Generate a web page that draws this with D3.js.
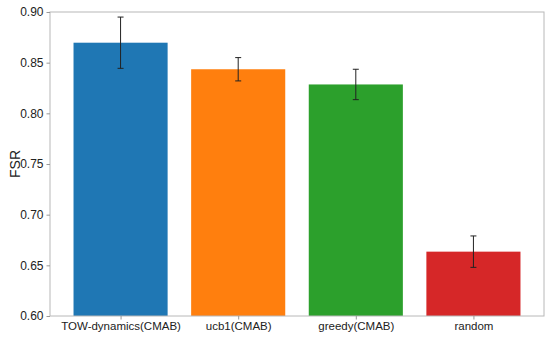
<!DOCTYPE html>
<html><head><meta charset="utf-8">
<script src="https://cdn.jsdelivr.net/npm/d3@7"></script>
<style>body{margin:0;background:#fff}svg{display:block}</style>
</head><body>
<script>
const categories = ["TOW-dynamics(CMAB)", "ucb1(CMAB)", "greedy(CMAB)", "random"];
const values = [0.8697, 0.8435, 0.8285, 0.6635];
const errors = [0.0253, 0.0115, 0.0150, 0.0155];
const colors = ["#1f77b4", "#ff7f0e", "#2ca02c", "#d62728"];
const yTicks = [0.60, 0.65, 0.70, 0.75, 0.80, 0.85, 0.90];

const W = 550, H = 342;
const m = {left: 50, right: 6, top: 12, bottom: 26};
const svg = d3.select("body").append("svg").attr("width", W).attr("height", H);
const font = "'Liberation Sans', Arial, sans-serif";

const x = d3.scaleLinear().domain([-0.6, 3.6]).range([m.left, W - m.right]);
const y = d3.scaleLinear().domain([0.6, 0.9]).range([H - m.bottom, m.top]);
const bw = 0.8;

const g = svg.append("g");
g.selectAll("rect.bar").data(values).join("rect").attr("class", "bar")
  .attr("x", (d, i) => x(i - bw / 2)).attr("width", (d, i) => x(i + bw / 2) - x(i - bw / 2))
  .attr("y", d => y(d)).attr("height", d => y(0.6) - y(d))
  .attr("fill", (d, i) => colors[i]);

// error bars
const eb = g.selectAll("g.err").data(values).join("g").attr("class", "err");
eb.append("line").attr("x1", (d, i) => x(i)).attr("x2", (d, i) => x(i))
  .attr("y1", (d, i) => y(d - errors[i])).attr("y2", (d, i) => y(d + errors[i]))
  .attr("stroke", "#222").attr("stroke-width", 1);
[-1, 1].forEach(s => {
  eb.append("line").attr("x1", (d, i) => x(i) - 3).attr("x2", (d, i) => x(i) + 3)
    .attr("y1", (d, i) => y(d + s * errors[i])).attr("y2", (d, i) => y(d + s * errors[i]))
    .attr("stroke", "#222").attr("stroke-width", 1);
});

// frame
svg.append("rect").attr("x", m.left).attr("y", m.top)
  .attr("width", W - m.right - m.left).attr("height", H - m.bottom - m.top)
  .attr("fill", "none").attr("stroke", "#b8b8b8").attr("stroke-width", 1);

// y axis
const yAxis = d3.axisLeft(y).tickValues(yTicks).tickFormat(d3.format(".2f")).tickSize(3.5).tickPadding(3);
const ya = svg.append("g").attr("transform", `translate(${m.left},0)`).call(yAxis);
ya.select(".domain").remove();
ya.selectAll("line").attr("stroke", "#999");
ya.selectAll("text").attr("font-family", font).attr("font-size", 12).attr("fill", "#222");

// x axis
const xAxis = d3.axisBottom(x).tickValues([0, 1, 2, 3]).tickFormat(i => categories[i]).tickSize(3.5).tickPadding(2);
const xa = svg.append("g").attr("transform", `translate(0,${H - m.bottom})`).call(xAxis);
xa.select(".domain").remove();
xa.selectAll("line").attr("stroke", "#999");
xa.selectAll("text").attr("font-family", font).attr("font-size", 11.5).attr("fill", "#222");

svg.append("text").attr("transform", `translate(20,${(m.top + H - m.bottom) / 2}) rotate(-90)`)
  .attr("text-anchor", "middle").attr("font-family", font).attr("font-size", 14)
  .attr("fill", "#222").text("FSR");
</script>
</body></html>
